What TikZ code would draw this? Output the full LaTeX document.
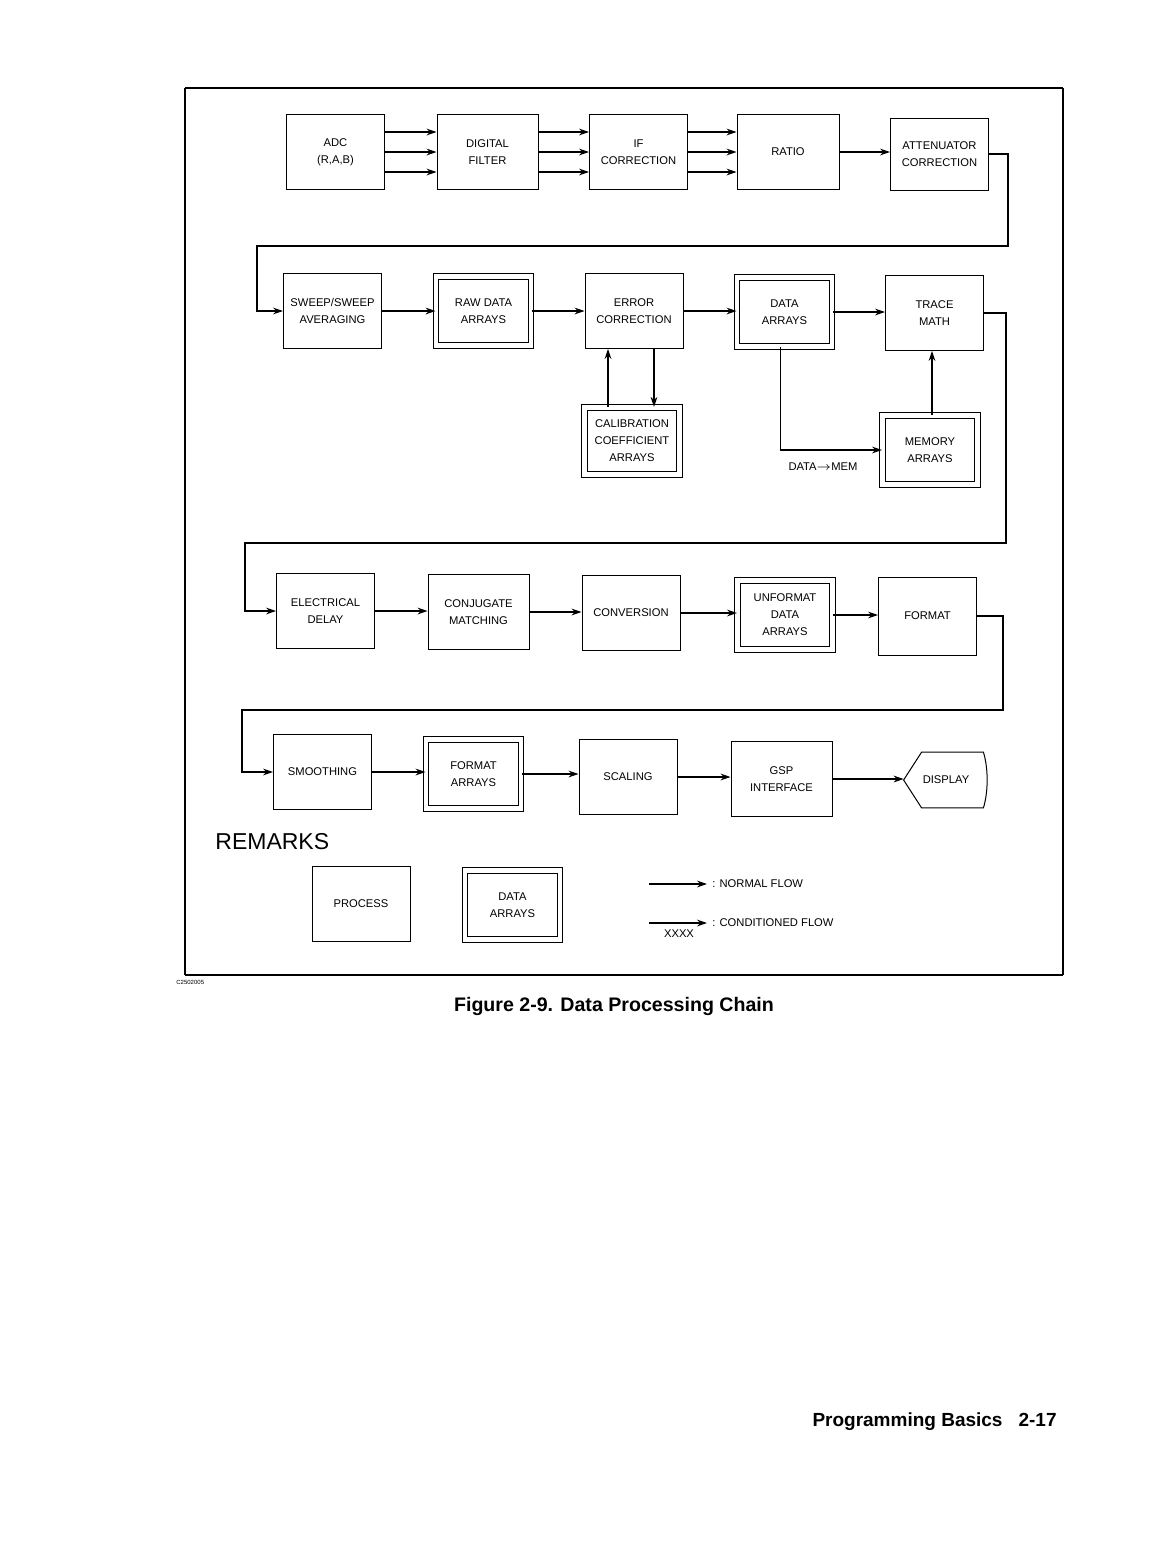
\documentclass[tikz,border=0pt]{standalone}
\usepackage{fontspec}
\setmainfont{Liberation Sans}
\usetikzlibrary{arrows.meta}
\begin{document}
\begin{tikzpicture}[x=0.5pt,y=-0.5pt,
  box/.style={draw, line width=0.5pt, minimum width=49pt, minimum height=37.5pt, inner sep=0pt, align=center, font=\fontsize{5.6}{8.5}\selectfont},
  dbox/.style={box, double, double distance=2.4pt, minimum width=47.5pt, minimum height=34.5pt},
  arr/.style={line width=0.6pt, -{Stealth[length=5pt,width=3.4pt]}},
  lbl/.style={font=\fontsize{5.6}{8.5}\selectfont, inner sep=0pt}]

\useasboundingbox (0,0) rectangle (1176,1544);
\fill[white] (0,0) rectangle (1176,1544);

% outer frame
\draw[line width=1.1pt] (185,88) -- (1063,88);
\draw[line width=1.1pt] (185,975) -- (1063,975);
\draw[line width=0.6pt] (185,88) -- (185,975);
\draw[line width=0.6pt] (1063,88) -- (1063,975);

% row 1
\node[box] (adc) at (335.5,152) {ADC\\(R,A,B)};
\node[box, minimum width=50.5pt] (df) at (487.5,152) {DIGITAL\\FILTER};
\node[box] (ifc) at (638.5,152) {IF\\CORRECTION};
\node[box, minimum width=51pt] (ratio) at (788,152) {RATIO};
\node[box, minimum height=36pt] (att) at (939.5,154) {ATTENUATOR\\CORRECTION};

\foreach \d in {-10,0,10}{
  \draw[arr] ([yshift=\d pt]adc.east) -- ([yshift=\d pt]df.west);
  \draw[arr] ([yshift=\d pt]df.east) -- ([yshift=\d pt]ifc.west);
  \draw[arr] ([yshift=\d pt]ifc.east) -- ([yshift=\d pt]ratio.west);
}
\draw[arr] (ratio.east) -- (ratio.east -| att.west);

% row 2
\node[box] (sweep) at (332.5,311) {SWEEP/SWEEP\\AVERAGING};
\node[dbox] (raw) at (483.5,311) {RAW DATA\\ARRAYS};
\node[box] (err) at (634,311) {ERROR\\CORRECTION};
\node[dbox] (data) at (784.5,312) {DATA\\ARRAYS};
\node[box] (trace) at (934.5,313) {TRACE\\MATH};
\node[dbox, minimum height=33.6pt] (cal) at (632,441) {CALIBRATION\\COEFFICIENT\\ARRAYS};
\node[dbox] (mem) at (930,450) {MEMORY\\ARRAYS};

\coordinate (r1a) at (1008,246);
\coordinate (r1b) at (257,246);
\draw[arr] (att.east) -| (r1a) -- (r1b) |- (sweep.west);

\draw[arr] (sweep.east) -- (sweep.east -| raw.west);
\draw[arr] (raw.east) -- (raw.east -| err.west);
\draw[arr] (err.east) -- (err.east -| data.west);
\draw[arr] (data.east) -- (data.east -| trace.west);
\draw[arr] ([xshift=-12pt]cal.north) -- ([xshift=-12pt]cal.north |- err.south);
\draw[arr] ([xshift=11pt]cal.north |- err.south) -- ([xshift=11pt]cal.north);
\draw[arr] ([xshift=-2pt]data.south) |- (mem.west);
\draw[arr] ([xshift=1pt]mem.north) -- ([xshift=1pt]mem.north |- trace.south);
\node[lbl] (dm) at (823,467) {DATA$\rightarrow$MEM};

% row 3
\node[box] (ed) at (325.5,611) {ELECTRICAL\\DELAY};
\node[box, minimum width=50.5pt] (cm) at (478.5,612) {CONJUGATE\\MATCHING};
\node[box] (conv) at (631,613) {CONVERSION};
\node[dbox] (unf) at (785,615) {UNFORMAT\\DATA\\ARRAYS};
\node[box, minimum height=39pt] (fmt) at (927.5,616) {FORMAT};

\coordinate (r2a) at (1006,543);
\coordinate (r2b) at (245,543);
\draw[arr] (trace.east) -| (r2a) -- (r2b) |- (ed.west);

\draw[arr] (ed.east) -- (ed.east -| cm.west);
\draw[arr] (cm.east) -- (cm.east -| conv.west);
\draw[arr] (conv.east) -- (conv.east -| unf.west);
\draw[arr] (unf.east) -- (unf.east -| fmt.west);

% row 4
\node[box] (sm) at (322.5,772) {SMOOTHING};
\node[dbox] (fa) at (473.5,774) {FORMAT\\ARRAYS};
\node[box] (sc) at (628,777) {SCALING};
\node[box, minimum width=50.5pt] (gsp) at (781.5,779) {GSP\\INTERFACE};
\node[minimum width=42pt, minimum height=27.5pt, inner sep=0pt, font=\fontsize{5.6}{8.5}\selectfont] (disp) at (946,780) {DISPLAY};
\draw[line width=0.5pt] (disp.west) -- ([xshift=9pt]disp.north west) -- ([xshift=-2.5pt]disp.north east)
  .. controls ([xshift=0pt,yshift=-8pt]disp.north east) and ([xshift=0pt,yshift=8pt]disp.south east) .. ([xshift=-2.5pt]disp.south east)
  -- ([xshift=9pt]disp.south west) -- cycle;

\coordinate (r3a) at (1003,710);
\coordinate (r3b) at (242,710);
\draw[arr] (fmt.east) -| (r3a) -- (r3b) |- (sm.west);

\draw[arr] (sm.east) -- (sm.east -| fa.west);
\draw[arr] (fa.east) -- (fa.east -| sc.west);
\draw[arr] (sc.east) -- (sc.east -| gsp.west);
\draw[arr] (gsp.east) -- (gsp.east -| disp.west);

% remarks
\node[anchor=base west, inner sep=0pt, font=\fontsize{11.5}{12}\selectfont] (rem) at (215,849) {REMARKS};
\node[box] (proc) at (361,904) {PROCESS};
\node[dbox] (leg) at (512.5,905) {DATA\\ARRAYS};

\coordinate (n1) at (649,884);
\coordinate (n2) at (707,884);
\draw[arr] (n1) -- (n2);
\node[lbl, anchor=west] (nt) at (712,884) {: NORMAL FLOW};
\coordinate (c1) at (649,923);
\coordinate (c2) at (707,923);
\draw[arr] (c1) -- (c2);
\node[lbl, anchor=west] (ct) at (712,923) {: CONDITIONED FLOW};
\node[lbl] (xx) at (679,934) {XXXX};

% captions
\node[anchor=west, inner sep=0pt, font=\fontsize{3}{3}\selectfont] (code) at (176,982) {C2502005};
\node[inner sep=0pt, font=\bfseries\fontsize{9.8}{12}\selectfont] (cap) at (614,1006) {Figure 2-9. Data Processing Chain};
\node[anchor=base east, inner sep=0pt, font=\bfseries\fontsize{9.5}{12}\selectfont] (foot) at (1057,1426) {Programming Basics\hspace{8pt}2-17};
\end{tikzpicture}
\end{document}
